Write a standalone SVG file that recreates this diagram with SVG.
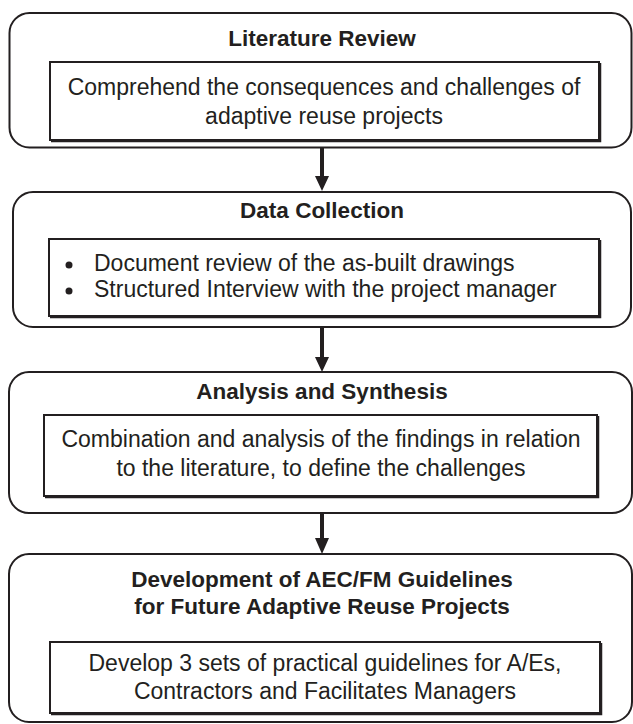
<svg xmlns="http://www.w3.org/2000/svg" width="633" height="724" viewBox="0 0 633 724">
<style>
.outer{fill:#fff;stroke:#231f20;stroke-width:2}
.inner{fill:#fff;stroke:#231f20;stroke-width:2}
.shadow{fill:none;stroke:#231f20;stroke-width:1.5}
.title{font-family:"Liberation Sans",Arial,sans-serif;font-weight:bold;font-size:22.5px;fill:#231f20;text-anchor:middle}
.body{font-family:"Liberation Sans",Arial,sans-serif;font-size:23px;fill:#231f20;text-anchor:middle}
.bl{font-family:"Liberation Sans",Arial,sans-serif;font-size:23px;fill:#231f20}
.conn{stroke:#231f20;stroke-width:4;fill:none}
.head{fill:#231f20}
</style>
<rect width="633" height="724" fill="#fff"/>
<g id="literature-review">
<rect class="outer" x="9.5" y="13" width="622" height="134.5" rx="20"/>
<text class="title" x="322" y="46">Literature Review</text>
<rect class="inner" x="50" y="62" width="549" height="78"/>
<path class="shadow" d="M600.5,63 V141.5 H51"/>
<text class="body" x="324" y="95">Comprehend the consequences and challenges of</text>
<text class="body" x="324" y="124">adaptive reuse projects</text>
</g>
<g id="data-collection">
<rect class="outer" x="13" y="192" width="618" height="135" rx="20"/>
<text class="title" x="322" y="218">Data Collection</text>
<rect class="inner" x="49" y="239" width="550" height="77"/>
<path class="shadow" d="M600.5,240 V317.5 H50"/>
<circle cx="69" cy="265" r="3.5" fill="#231f20"/>
<text class="bl" x="94" y="271">Document review of the as-built drawings</text>
<circle cx="69" cy="291" r="3.5" fill="#231f20"/>
<text class="bl" x="94" y="297">Structured Interview with the project manager</text>
</g>
<g id="analysis-synthesis">
<rect class="outer" x="9" y="372" width="623" height="141" rx="20"/>
<text class="title" x="322" y="399">Analysis and Synthesis</text>
<rect class="inner" x="44" y="415" width="553" height="81"/>
<path class="shadow" d="M598.5,416 V497.5 H45"/>
<text class="body" x="321" y="447">Combination and analysis of the findings in relation</text>
<text class="body" x="321" y="476">to the literature, to define the challenges</text>
</g>
<g id="guidelines">
<rect class="outer" x="9" y="554" width="623" height="168" rx="20"/>
<text class="title" x="322" y="587">Development of AEC/FM Guidelines</text>
<text class="title" x="322" y="614">for Future Adaptive Reuse Projects</text>
<rect class="inner" x="50" y="642" width="550" height="71"/>
<path class="shadow" d="M601.5,643 V714.5 H51"/>
<text class="body" x="325" y="671">Develop 3 sets of practical guidelines for A/Es,</text>
<text class="body" x="325" y="699">Contractors and Facilitates Managers</text>
</g>
<g id="connectors">
<line class="conn" x1="322" y1="148" x2="322" y2="178"/>
<polygon class="head" points="315,176 329,176 322,191"/>
<line class="conn" x1="322" y1="328" x2="322" y2="359"/>
<polygon class="head" points="315,357 329,357 322,372"/>
<line class="conn" x1="322" y1="514" x2="322" y2="540"/>
<polygon class="head" points="315,538 329,538 322,554"/>
</g>
</svg>
